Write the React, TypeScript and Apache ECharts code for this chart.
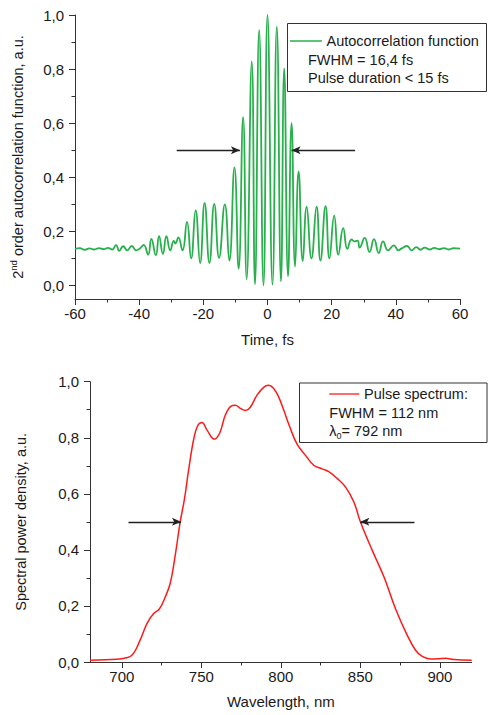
import React, { useEffect, useRef } from 'react';
import * as echarts from 'echarts';

// ---- Autocorrelation trace (time, fs / normalized value) ----
const acfTime = [
  -60, -58.5, -57, -55.5, -54, -52.5, -51, -49.7, -48.4, -47.2, -46.2, -45.0, -43.7, -42.3, -40.9,
  -39.7, -38.6, -37.2, -36.2, -34.8, -33.8, -32.6, -31.5, -30.3, -29.2, -28.7, -27.8, -26.5,
  -25.1, -23.8, -22.4, -21.0, -19.6, -18.1, -16.6, -15.1, -13.3, -11.9, -10.3, -9.0, -7.6,
  -6.5, -4.9, -3.9, -2.6, -1.25, 0, 1.55, 2.9, 4.2, 5.2, 6.4, 7.5, 8.6, 9.7, 11.0, 12.2, 13.7,
  15.3, 16.5, 18.1, 19.3, 20.8, 22.1, 23.6, 24.9, 26.2, 27.2, 28.1, 28.7, 30.3, 31.8, 33.2,
  34.7, 36.0, 37.6, 39.4, 40.8, 41.8, 43.5, 44.9, 46.4, 47.7, 49.0, 50.5, 52.0, 53.5, 55.0,
  56.5, 58.0, 60,
];
const acfValue = [
  0.135, 0.138, 0.132, 0.137, 0.133, 0.138, 0.134, 0.139, 0.133, 0.149, 0.128, 0.145, 0.13, 0.146, 0.13,
  0.138, 0.15, 0.114, 0.172, 0.112, 0.182, 0.117, 0.182, 0.13, 0.165, 0.155, 0.178, 0.13,
  0.235, 0.1, 0.278, 0.083, 0.305, 0.083, 0.302, 0.102, 0.3, 0.092, 0.437, 0.062, 0.622,
  0.024, 0.828, 0.004, 0.945, 0.0, 1.0, 0.003, 0.957, 0.015, 0.803, 0.034, 0.6, 0.07, 0.422, 0.09, 0.291, 0.1,
  0.291, 0.092, 0.293, 0.1, 0.258, 0.114, 0.212, 0.135, 0.17, 0.163, 0.166, 0.14, 0.176, 0.124, 0.171,
  0.12, 0.163, 0.13, 0.148, 0.13, 0.137, 0.146, 0.13, 0.142, 0.132, 0.14, 0.133, 0.139, 0.134, 0.138,
  0.133, 0.138, 0.136,
];
const acfArrowStart = [-28.3, 27.3];
const acfArrowEnd = [-8.6, 7.5];
const acfArrowLevel = 0.5;

// ---- Pulse spectrum (wavelength, nm / normalized value) ----
const specWl = [
  680, 690, 700, 706.3, 711.5, 715.8, 720, 723.7, 727.3, 730.4, 733.6, 736.7, 739.3, 742, 745.1,
  747.6, 750.4, 753.5, 758.1, 761.5, 765.1, 768.7, 771.4, 774.5, 777.7, 780.8, 785, 789.2, 792.3,
  795.5, 798.6, 801.8, 805.6, 810.2, 815.4, 820.7, 826, 830.1, 835.4, 840.6, 845.9, 850, 857.4,
  864.8, 872.1, 879.5, 884.7, 888.9, 894.2, 903.6, 908.8, 920,
];
const specVal = [
  0.006, 0.008, 0.012, 0.024, 0.078, 0.137, 0.173, 0.19, 0.232, 0.28, 0.381, 0.5, 0.578, 0.685, 0.792,
  0.842, 0.854, 0.828, 0.795, 0.816, 0.881, 0.913, 0.916, 0.905, 0.897, 0.909, 0.952, 0.98, 0.987,
  0.976, 0.946, 0.899, 0.839, 0.777, 0.738, 0.702, 0.689, 0.679, 0.655, 0.625, 0.571, 0.5, 0.399,
  0.304, 0.19, 0.095, 0.042, 0.02, 0.011, 0.013, 0.009, 0.006,
];
const specArrowStart = [704.2, 884];
const specArrowEnd = [737.2, 850];
const specArrowLevel = 0.5;

// ---- Tick values ----
const acfYMajor = [0, 0.2, 0.4, 0.6, 0.8, 1.0];
const acfYMinor = [0.1, 0.3, 0.5, 0.7, 0.9];
const specXMajor = [700, 750, 800, 850, 900];
const specXMinor = [725, 775, 825, 875];

const FONT = 'Liberation Sans, Arial, sans-serif';
const AXIS = '#333333';
const TEXT = '#1a1a1a';
const GREEN = '#27b04b';
const RED = '#ff1a1a';

const fmt = (v: number) => v.toFixed(1).replace('.', ',');

function arrows(start: number[], end: number[], level: number) {
  return start.map((s, i) => [
    { coord: [s, level], symbol: 'none' },
    { coord: [end[i], level], symbol: 'arrow', symbolSize: [6, 9] },
  ]);
}

const axisLineCfg = { show: true, onZero: false, lineStyle: { color: AXIS, width: 1 } };
const tickCfg = { show: true, inside: false, length: 6, lineStyle: { color: AXIS, width: 1 } };
const labelCfg = { color: TEXT, fontFamily: FONT, fontSize: 15 };
const nameCfg = { color: TEXT, fontFamily: FONT, fontSize: 15 };

export default function App() {
  const ref = useRef<HTMLDivElement>(null);
  useEffect(() => {
    if (!ref.current) return;
    const chart = echarts.init(ref.current, undefined, { renderer: 'svg' });
    const option: any = {
      animation: false,
      backgroundColor: '#ffffff',
      grid: [
        { left: 75, top: 15, width: 385, height: 284 },
        { left: 90, top: 381.7, width: 381.7, height: 280.3 },
      ],
      xAxis: [
        {
          gridIndex: 0, type: 'value', position: 'bottom', min: -60, max: 60, interval: 20,
          axisLine: axisLineCfg, axisTick: tickCfg, splitLine: { show: false },
          minorTick: { show: true, splitNumber: 2, length: 3.5, lineStyle: { color: AXIS } },
          axisLabel: { ...labelCfg, margin: 7, showMinLabel: true, showMaxLabel: true },
          name: 'Time, fs', nameLocation: 'middle', nameGap: 33, nameTextStyle: nameCfg,
        },
        {
          gridIndex: 1, type: 'value', position: 'bottom', min: 680, max: 920,
          axisLine: axisLineCfg, axisTick: { ...tickCfg, customValues: specXMajor }, splitLine: { show: false },
          axisLabel: { ...labelCfg, margin: 7, customValues: specXMajor },
          name: 'Wavelength, nm', nameLocation: 'middle', nameGap: 32, nameTextStyle: nameCfg,
        },
        {
          gridIndex: 1, type: 'value', position: 'bottom', min: 680, max: 920,
          axisLine: { show: false, onZero: false }, splitLine: { show: false },
          axisTick: { ...tickCfg, length: 3.5, customValues: specXMinor },
          axisLabel: { show: false },
        },
      ],
      yAxis: [
        {
          gridIndex: 0, type: 'value', position: 'left', min: -0.05, max: 1,
          axisLine: axisLineCfg, axisTick: { ...tickCfg, customValues: acfYMajor }, splitLine: { show: false },
          axisLabel: { ...labelCfg, margin: 11, customValues: acfYMajor, formatter: fmt },
          name: '{n|2}{sup|nd}{n| order autocorrelation function, a.u.}',
          nameLocation: 'middle', nameGap: 47,
          nameTextStyle: {
            ...nameCfg,
            rich: {
              n: { fontFamily: FONT, fontSize: 14.5, color: TEXT, lineHeight: 20 },
              sup: { fontFamily: FONT, fontSize: 9.5, color: TEXT, lineHeight: 11, verticalAlign: 'top' },
            },
          },
        },
        {
          gridIndex: 0, type: 'value', position: 'left', min: -0.05, max: 1,
          axisLine: { show: false, onZero: false }, splitLine: { show: false },
          axisTick: { ...tickCfg, length: 3.5, customValues: acfYMinor },
          axisLabel: { show: false },
        },
        {
          gridIndex: 1, type: 'value', position: 'left', min: 0, max: 1, interval: 0.2,
          axisLine: axisLineCfg, axisTick: tickCfg, splitLine: { show: false },
          minorTick: { show: true, splitNumber: 2, length: 3.5, lineStyle: { color: AXIS } },
          axisLabel: { ...labelCfg, margin: 11, formatter: fmt },
          name: 'Spectral power density, a.u.', nameLocation: 'middle', nameGap: 62,
          nameTextStyle: { ...nameCfg, fontSize: 14.5 },
        },
      ],
      series: [
        {
          type: 'line', xAxisIndex: 0, yAxisIndex: 0,
          data: acfTime.map((t, i) => [t, acfValue[i]]),
          symbol: 'none', showSymbol: false, smooth: 0.5,
          lineStyle: { color: GREEN, width: 1.8 },
          markLine: {
            silent: true, animation: false, label: { show: false },
            lineStyle: { color: '#222', width: 1.3, type: 'solid' },
            emphasis: { disabled: true },
            data: arrows(acfArrowStart, acfArrowEnd, acfArrowLevel),
          },
        },
        {
          type: 'line', xAxisIndex: 1, yAxisIndex: 2,
          data: specWl.map((w, i) => [w, specVal[i]]),
          symbol: 'none', showSymbol: false, smooth: 0.4,
          lineStyle: { color: RED, width: 1.5 },
          markLine: {
            silent: true, animation: false, label: { show: false },
            lineStyle: { color: '#222', width: 1.3, type: 'solid' },
            emphasis: { disabled: true },
            data: arrows(specArrowStart, specArrowEnd, specArrowLevel),
          },
        },
      ],
      graphic: [
        { type: 'rect', shape: { x: 287.5, y: 23.5, width: 199, height: 68 }, style: { fill: '#fff', stroke: AXIS, lineWidth: 1 }, z: 10 },
        { type: 'line', shape: { x1: 290, y1: 41, x2: 322, y2: 41 }, style: { stroke: GREEN, lineWidth: 1.5 }, z: 11 },
        { type: 'text', x: 326.5, y: 41, style: { text: 'Autocorrelation function', fill: TEXT, fontFamily: FONT, fontSize: 14.5, verticalAlign: 'middle' }, z: 11 },
        { type: 'text', x: 308, y: 59.5, style: { text: 'FWHM = 16,4 fs', fill: TEXT, fontFamily: FONT, fontSize: 14.5, verticalAlign: 'middle' }, z: 11 },
        { type: 'text', x: 308, y: 78, style: { text: 'Pulse duration < 15 fs', fill: TEXT, fontFamily: FONT, fontSize: 14.5, verticalAlign: 'middle' }, z: 11 },

        { type: 'rect', shape: { x: 299.5, y: 383, width: 187.5, height: 59.5 }, style: { fill: '#fff', stroke: AXIS, lineWidth: 1 }, z: 10 },
        { type: 'line', shape: { x1: 329.3, y1: 394, x2: 359.3, y2: 394 }, style: { stroke: RED, lineWidth: 1.3 }, z: 11 },
        { type: 'text', x: 364, y: 394, style: { text: 'Pulse spectrum:', fill: TEXT, fontFamily: FONT, fontSize: 14.5, verticalAlign: 'middle' }, z: 11 },
        { type: 'text', x: 329.3, y: 412.5, style: { text: 'FWHM = 112 nm', fill: TEXT, fontFamily: FONT, fontSize: 14.5, verticalAlign: 'middle' }, z: 11 },
        {
          type: 'text', x: 329.3, y: 431, z: 11,
          style: {
            text: '{a|λ}{s|0}{a|= 792 nm}', verticalAlign: 'middle', fill: TEXT,
            rich: {
              a: { fontFamily: FONT, fontSize: 14.5, fill: TEXT, lineHeight: 18 },
              s: { fontFamily: FONT, fontSize: 9, fill: TEXT, lineHeight: 10, verticalAlign: 'bottom' },
            },
          },
        },
      ],
    };
    chart.setOption(option);
    return () => chart.dispose();
  }, []);
  return <div ref={ref} style={{ position: 'absolute', left: 0, top: 0, width: 488, height: 715 }} />;
}
